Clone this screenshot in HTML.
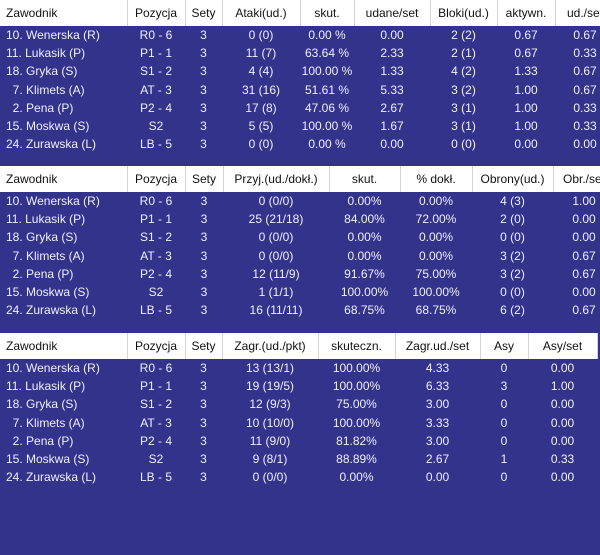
<!DOCTYPE html>
<html><head><meta charset="utf-8"><style>
html,body{margin:0;padding:0;}
body{width:600px;height:555px;overflow:hidden;background:#33338b;position:relative;font-family:"Liberation Sans",Arial,sans-serif;font-size:12px;}
table{position:absolute;left:0;border-collapse:collapse;table-layout:fixed;}
td{padding:0;height:18.2px;color:#eef0ff;text-align:center;white-space:nowrap;overflow:hidden;}
tr.h td{background:#fff;color:#111;height:26px;border-right:1px solid #d4d4d4;}
td.n{text-align:left;padding-left:6px;}
</style></head><body>

<table style="top:0;width:615px">
<colgroup><col style="width:127px"><col style="width:58px"><col style="width:37px"><col style="width:78px"><col style="width:54px"><col style="width:76px"><col style="width:67px"><col style="width:58px"><col style="width:60px"></colgroup>
<tr class="h"><td class="n">Zawodnik</td><td>Pozycja</td><td>Sety</td><td>Ataki(ud.)</td><td>skut.</td><td>udane/set</td><td>Bloki(ud.)</td><td>aktywn.</td><td>ud./set</td></tr>
<tr><td class="n">10. Wenerska (R)</td><td>R0 - 6</td><td>3</td><td>0 (0)</td><td>0.00 %</td><td>0.00</td><td>2 (2)</td><td>0.67</td><td>0.67</td></tr>
<tr><td class="n">11. Lukasik (P)</td><td>P1 - 1</td><td>3</td><td>11 (7)</td><td>63.64 %</td><td>2.33</td><td>2 (1)</td><td>0.67</td><td>0.33</td></tr>
<tr><td class="n">18. Gryka (S)</td><td>S1 - 2</td><td>3</td><td>4 (4)</td><td>100.00 %</td><td>1.33</td><td>4 (2)</td><td>1.33</td><td>0.67</td></tr>
<tr><td class="n">&nbsp;&nbsp;7. Klimets (A)</td><td>AT - 3</td><td>3</td><td>31 (16)</td><td>51.61 %</td><td>5.33</td><td>3 (2)</td><td>1.00</td><td>0.67</td></tr>
<tr><td class="n">&nbsp;&nbsp;2. Pena (P)</td><td>P2 - 4</td><td>3</td><td>17 (8)</td><td>47.06 %</td><td>2.67</td><td>3 (1)</td><td>1.00</td><td>0.33</td></tr>
<tr><td class="n">15. Moskwa (S)</td><td>S2</td><td>3</td><td>5 (5)</td><td>100.00 %</td><td>1.67</td><td>3 (1)</td><td>1.00</td><td>0.33</td></tr>
<tr><td class="n">24. Zurawska (L)</td><td>LB - 5</td><td>3</td><td>0 (0)</td><td>0.00 %</td><td>0.00</td><td>0 (0)</td><td>0.00</td><td>0.00</td></tr>
</table>

<table style="top:166px;width:615px">
<colgroup><col style="width:127px"><col style="width:58px"><col style="width:38px"><col style="width:106px"><col style="width:71px"><col style="width:72px"><col style="width:81px"><col style="width:62px"></colgroup>
<tr class="h"><td class="n">Zawodnik</td><td>Pozycja</td><td>Sety</td><td>Przyj.(ud./dokł.)</td><td>skut.</td><td>% dokł.</td><td>Obrony(ud.)</td><td>Obr./set</td></tr>
<tr><td class="n">10. Wenerska (R)</td><td>R0 - 6</td><td>3</td><td>0 (0/0)</td><td>0.00%</td><td>0.00%</td><td>4 (3)</td><td>1.00</td></tr>
<tr><td class="n">11. Lukasik (P)</td><td>P1 - 1</td><td>3</td><td>25 (21/18)</td><td>84.00%</td><td>72.00%</td><td>2 (0)</td><td>0.00</td></tr>
<tr><td class="n">18. Gryka (S)</td><td>S1 - 2</td><td>3</td><td>0 (0/0)</td><td>0.00%</td><td>0.00%</td><td>0 (0)</td><td>0.00</td></tr>
<tr><td class="n">&nbsp;&nbsp;7. Klimets (A)</td><td>AT - 3</td><td>3</td><td>0 (0/0)</td><td>0.00%</td><td>0.00%</td><td>3 (2)</td><td>0.67</td></tr>
<tr><td class="n">&nbsp;&nbsp;2. Pena (P)</td><td>P2 - 4</td><td>3</td><td>12 (11/9)</td><td>91.67%</td><td>75.00%</td><td>3 (2)</td><td>0.67</td></tr>
<tr><td class="n">15. Moskwa (S)</td><td>S2</td><td>3</td><td>1 (1/1)</td><td>100.00%</td><td>100.00%</td><td>0 (0)</td><td>0.00</td></tr>
<tr><td class="n">24. Zurawska (L)</td><td>LB - 5</td><td>3</td><td>16 (11/11)</td><td>68.75%</td><td>68.75%</td><td>6 (2)</td><td>0.67</td></tr>
</table>

<table style="top:333px;width:597px">
<colgroup><col style="width:127px"><col style="width:58px"><col style="width:37px"><col style="width:96px"><col style="width:77px"><col style="width:85px"><col style="width:48px"><col style="width:69px"></colgroup>
<tr class="h"><td class="n">Zawodnik</td><td>Pozycja</td><td>Sety</td><td>Zagr.(ud./pkt)</td><td>skuteczn.</td><td>Zagr.ud./set</td><td>Asy</td><td>Asy/set</td></tr>
<tr><td class="n">10. Wenerska (R)</td><td>R0 - 6</td><td>3</td><td>13 (13/1)</td><td>100.00%</td><td>4.33</td><td>0</td><td>0.00</td></tr>
<tr><td class="n">11. Lukasik (P)</td><td>P1 - 1</td><td>3</td><td>19 (19/5)</td><td>100.00%</td><td>6.33</td><td>3</td><td>1.00</td></tr>
<tr><td class="n">18. Gryka (S)</td><td>S1 - 2</td><td>3</td><td>12 (9/3)</td><td>75.00%</td><td>3.00</td><td>0</td><td>0.00</td></tr>
<tr><td class="n">&nbsp;&nbsp;7. Klimets (A)</td><td>AT - 3</td><td>3</td><td>10 (10/0)</td><td>100.00%</td><td>3.33</td><td>0</td><td>0.00</td></tr>
<tr><td class="n">&nbsp;&nbsp;2. Pena (P)</td><td>P2 - 4</td><td>3</td><td>11 (9/0)</td><td>81.82%</td><td>3.00</td><td>0</td><td>0.00</td></tr>
<tr><td class="n">15. Moskwa (S)</td><td>S2</td><td>3</td><td>9 (8/1)</td><td>88.89%</td><td>2.67</td><td>1</td><td>0.33</td></tr>
<tr><td class="n">24. Zurawska (L)</td><td>LB - 5</td><td>3</td><td>0 (0/0)</td><td>0.00%</td><td>0.00</td><td>0</td><td>0.00</td></tr>
</table>

</body></html>
